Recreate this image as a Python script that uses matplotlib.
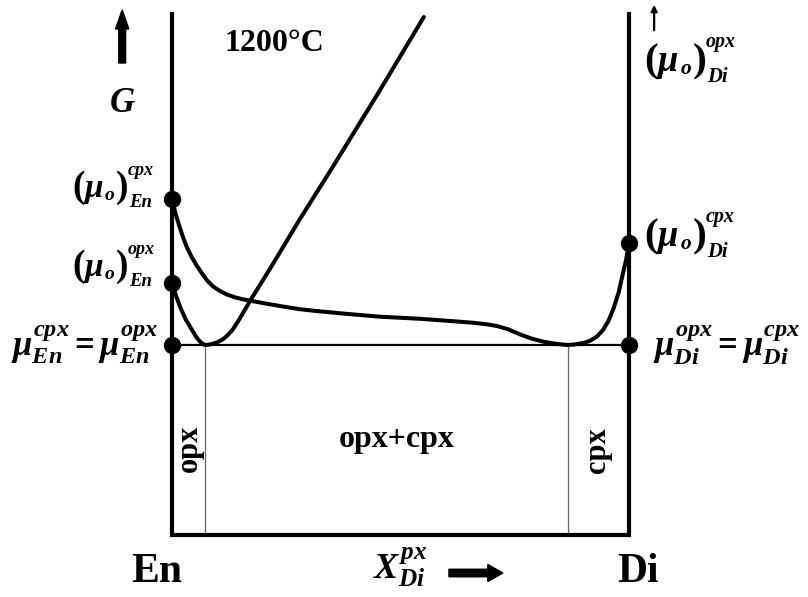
import matplotlib
matplotlib.use("Agg")
import matplotlib.pyplot as plt

plt.rcParams['mathtext.fontset'] = 'custom'
plt.rcParams['mathtext.rm'] = 'Liberation Serif:bold'
plt.rcParams['mathtext.it'] = 'Liberation Serif:italic:bold'
plt.rcParams['mathtext.bf'] = 'Liberation Serif:bold'
plt.rcParams['font.family'] = ['Liberation Serif', 'DejaVu Serif']

# ---------------- data (x = mole fraction Di, G = arbitrary units) ----------------
x_ends = [0.0, 1.0]
G_top = 3.31
G_bottom = -1.90

mu0_cpx_En = 1.46
mu0_opx_En = 0.62
mu0_cpx_Di = 1.02
mu_eq = 0.0

x_opx_limit = 0.072
x_cpx_limit = 0.867

cpx_x = [0.0, 0.008, 0.016, 0.024, 0.032, 0.043, 0.054, 0.065, 0.076, 0.090, 0.105,
         0.120, 0.137, 0.154, 0.171, 0.207, 0.245, 0.280, 0.309, 0.380, 0.455, 0.543,
         0.615, 0.660, 0.689, 0.711, 0.735, 0.761, 0.787, 0.812, 0.835, 0.856, 0.867,
         0.880, 0.893, 0.905, 0.915, 0.930, 0.943, 0.955, 0.965, 0.977, 0.987, 0.994, 1.0]
cpx_G = [1.46, 1.31, 1.19, 1.08, 0.983, 0.88, 0.795, 0.72, 0.65, 0.585, 0.54,
         0.505, 0.478, 0.458, 0.443, 0.413, 0.383, 0.358, 0.343, 0.312, 0.283, 0.262,
         0.238, 0.222, 0.207, 0.19, 0.158, 0.107, 0.064, 0.034, 0.015, 0.004, 0.0,
         0.005, 0.014, 0.027, 0.043, 0.085, 0.15, 0.24, 0.35, 0.52, 0.72, 0.86, 1.02]

opx_x = [0.0, 0.009, 0.0175, 0.030, 0.046, 0.054, 0.062, 0.068, 0.072, 0.078, 0.085,
         0.098, 0.110, 0.120, 0.133, 0.145, 0.158, 0.171, 0.214, 0.280, 0.353, 0.450, 0.551]
opx_G = [0.62, 0.49, 0.383, 0.255, 0.133, 0.075, 0.03, 0.01, 0.0, 0.002, 0.007,
         0.025, 0.053, 0.09, 0.155, 0.24, 0.34, 0.443, 0.759, 1.26, 1.79, 2.51, 3.28]

# ---------------- figure ----------------
fig = plt.figure(figsize=(8.08, 5.97), dpi=100)
ax = fig.add_axes([0, 0, 1, 1])
ax.set_xlim(-172 / 457, 636 / 457)
ax.set_ylim(-2.52, 3.45)
ax.axis('off')


def P(xp, yp):
    """pixel position (layout only) -> data coordinates"""
    return (xp - 172) / 457, (345 - yp) / 100


def T(xp, yp, s, **kw):
    x, y = P(xp, yp)
    return ax.text(x, y, s, **kw)


# frame: left axis, bottom, right axis
ax.plot([x_ends[0], x_ends[0], x_ends[1], x_ends[1]],
        [G_top, G_bottom, G_bottom, G_top], color='black', lw=3.0,
        solid_joinstyle='miter', zorder=3)

# common tangent
ax.plot(x_ends, [mu_eq, mu_eq], color='black', lw=1.6, zorder=2)

# phase limits
ax.plot([x_opx_limit, x_opx_limit], [mu_eq, G_bottom], color='#666666', lw=0.9, zorder=1)
ax.plot([x_cpx_limit, x_cpx_limit], [mu_eq, G_bottom], color='#666666', lw=0.9, zorder=1)

# G curves
ax.plot(cpx_x, cpx_G, color='black', lw=2.9, zorder=4, solid_capstyle='round',
        solid_joinstyle='round')
ax.plot(opx_x, opx_G, color='black', lw=2.9, zorder=4, solid_capstyle='round',
        solid_joinstyle='round')

# dots
ax.plot([x_ends[0], x_ends[0], x_ends[0], x_ends[1], x_ends[1]],
        [mu0_cpx_En, mu0_opx_En, mu_eq, mu0_cpx_Di, mu_eq],
        'o', color='black', ms=11.5, zorder=5)

# arrows
ax.arrow(-0.109, 2.82, 0, 0.53, width=0.015, head_width=0.029, head_length=0.19,
         length_includes_head=True, color='black', zorder=5)
ax.arrow(0.606, -2.28, 0.118, 0, width=0.075, head_width=0.17, head_length=0.033,
         length_includes_head=True, color='black', zorder=5)
ax.annotate('', xy=(1.055, 3.43), xytext=(1.055, 3.12),
            arrowprops=dict(arrowstyle='-|>', lw=1.6, color='black', mutation_scale=9))


# (mu_o)^phase_component labels built from pieces
def paren_label(L, B, sup, sub, k=1.0):
    bi = dict(fontweight='bold', fontstyle='italic', va='baseline', ha='left')
    b = dict(fontweight='bold', va='baseline', ha='left')
    T(L, B, '(', fontsize=27 * k, **b)
    T(L + 12 * k, B, '\u03bc', fontsize=24 * k, **bi)
    T(L + 33 * k, B + 3 * k, 'o', fontsize=14 * k, **bi)
    T(L + 44 * k, B, ')', fontsize=27 * k, **b)
    T(L + 56 * k, B - 22 * k, sup, fontsize=13 * k, **bi)
    T(L + 57 * k, B + 10 * k, sub, fontsize=13.5 * k, **bi)


paren_label(72, 197, 'cpx', 'En')
paren_label(72, 276, 'opx', 'En')
paren_label(644, 71, 'opx', 'Di', 1.1)
paren_label(644, 246, 'cpx', 'Di', 1.1)

T(158, 345, r'$\mu_{En}^{cpx}=\mu_{En}^{opx}$', ha='right', va='center', fontsize=25)
T(653, 345, r'$\mu_{Di}^{opx}=\mu_{Di}^{cpx}$', ha='left', va='center', fontsize=25)

# texts
T(122, 103, 'G', ha='center', va='center', fontsize=25, fontweight='bold', fontstyle='italic')
T(274, 43, '1200°C', ha='center', va='center', fontsize=23, fontweight='bold')

T(189.5, 448, 'opx', rotation=90, ha='center', va='center', fontsize=22, fontweight='bold')
T(597, 450, 'cpx', rotation=90, ha='center', va='center', fontsize=22, fontweight='bold')
T(397, 440, 'opx+cpx', ha='center', va='center', fontsize=23, fontweight='bold')

T(157, 572, 'En', ha='center', va='center', fontsize=30, fontweight='bold')
T(638, 572, 'Di', ha='center', va='center', fontsize=30, fontweight='bold')
T(400, 567, r'$X_{Di}^{px}$', ha='center', va='center', fontsize=26)

fig.savefig('out.png', dpi=100)
